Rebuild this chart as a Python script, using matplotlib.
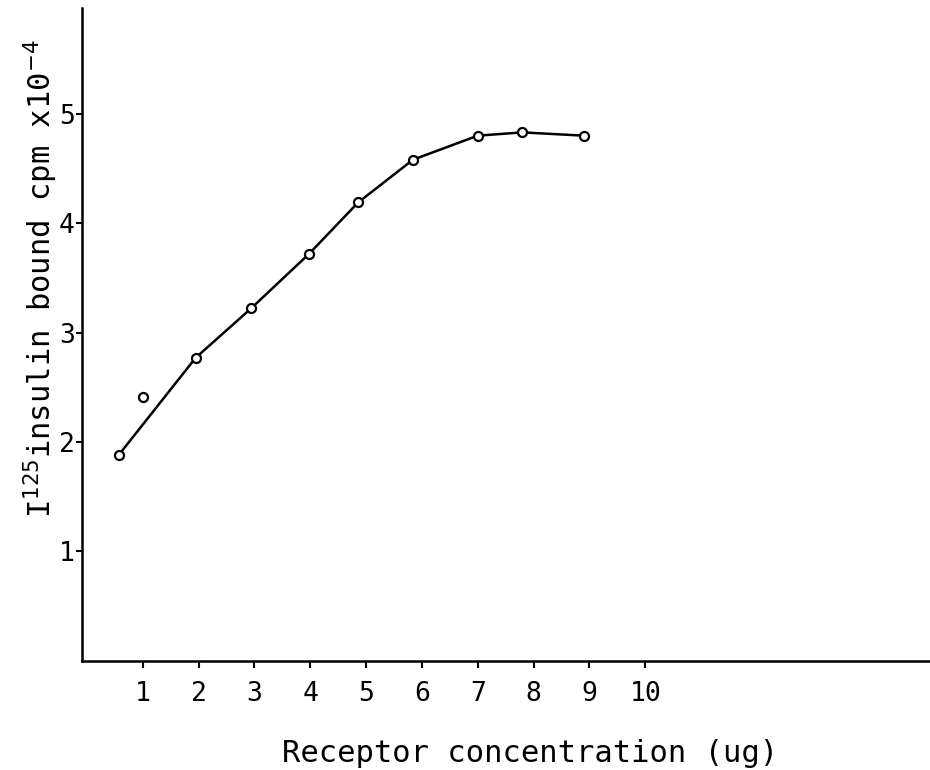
import numpy as np
import matplotlib.pyplot as plt

# Receptor concentration (ug) vs I125 insulin bound (cpm x 10^-4)
conc = [0.57, 1.0, 1.95, 2.94, 3.98, 4.86, 5.84, 7.0, 7.8, 8.9]
bound = [1.88, 2.41, 2.77, 3.22, 3.72, 4.19, 4.58, 4.80, 4.83, 4.80]
# point at 1.0 ug is an outlier, not on the curve
curve_skip = [1]

x_ticks = [1, 2, 3, 4, 5, 6, 7, 8, 9, 10]
y_ticks = [1, 2, 3, 4, 5]

plt.rcParams['font.family'] = ['DejaVu Sans Mono', 'DejaVu Sans']

fig = plt.figure(figsize=(9.3, 7.7), dpi=100)
ax = fig.add_axes([0.088, 0.142, 0.912, 0.848])

cx = [v for i, v in enumerate(conc) if i not in curve_skip]
cy = [v for i, v in enumerate(bound) if i not in curve_skip]
ax.plot(cx, cy, color='black', linewidth=1.8, zorder=2)
ax.plot(conc, bound, linestyle='none', marker='o', markersize=6.5,
        markerfacecolor='white', markeredgecolor='black', markeredgewidth=1.6, zorder=3)

ax.set_xlim(-0.09, 15.1)
ax.set_ylim(0, 5.97)

ax.spines['top'].set_visible(False)
ax.spines['right'].set_visible(False)
ax.spines['left'].set_linewidth(1.8)
ax.spines['bottom'].set_linewidth(1.8)

ax.set_xticks(x_ticks)
ax.set_yticks(y_ticks)
ax.tick_params(axis='x', labelsize=19, length=5, width=1.5, pad=10)
ax.tick_params(axis='y', labelsize=19, length=4, width=1.5, pad=1)

ax.set_xlabel('Receptor concentration (ug)', fontsize=22)
ax.xaxis.set_label_coords(0.528, -0.12)
ax.set_ylabel(r'I$^{125}$insulin bound cpm x10$^{-4}$', fontsize=22)
ax.yaxis.set_label_coords(-0.026, 0.585)

plt.savefig('out.png', dpi=100)
